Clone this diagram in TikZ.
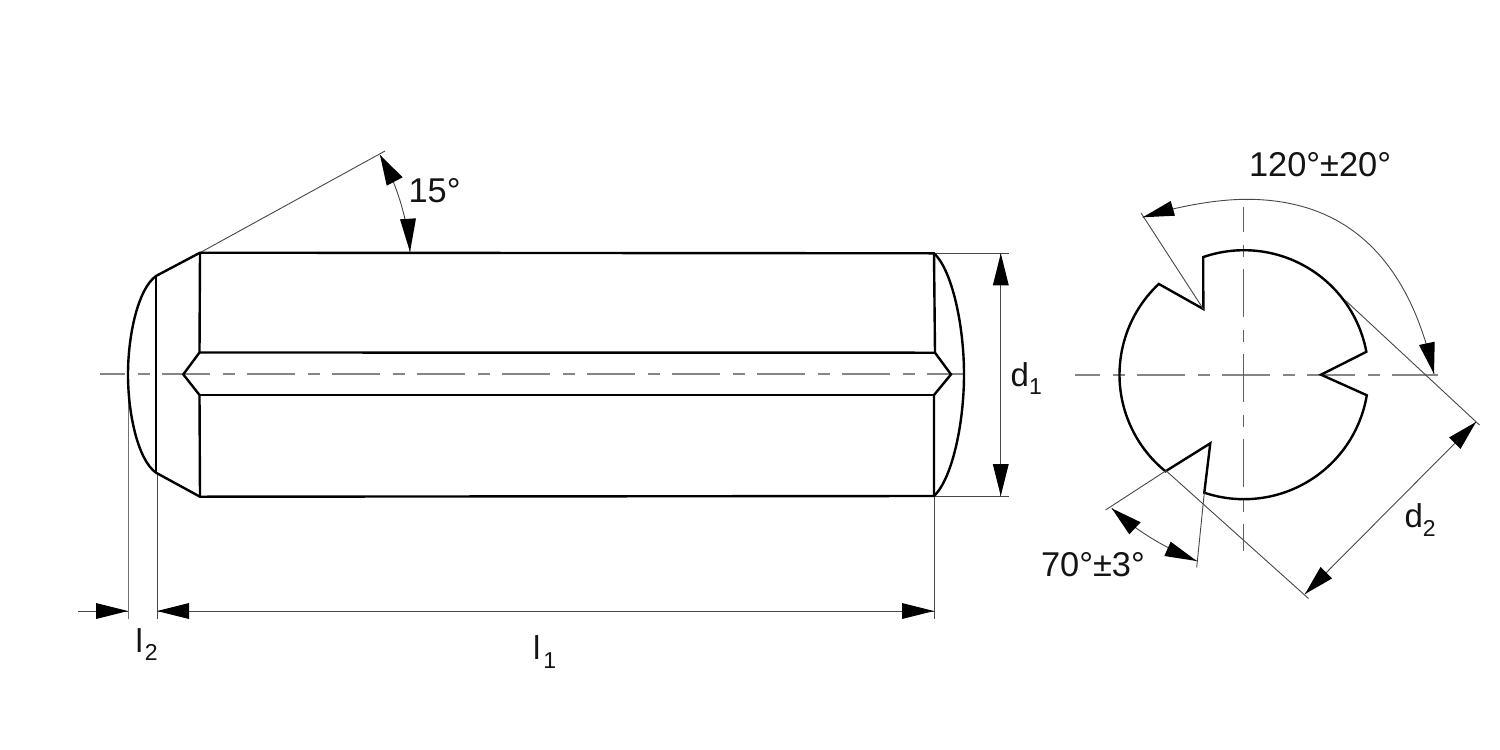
\documentclass[tikz,border=0pt]{standalone}
\usepackage{fontspec}
\setmainfont{Liberation Sans}
\newcommand{\subsc}[1]{\raisebox{-4.3pt}{\fontsize{11.5pt}{11.5pt}\selectfont #1}}
\tikzset{
  outl/.style={line width=1.2pt,black,line join=miter},
  thinl/.style={line width=0.45pt,black!72},
  extl/.style={line width=0.6pt,black!55},
  centl/.style={line width=0.95pt,black!48,dash pattern=on 24pt off 6.25pt on 6pt off 6.25pt,dash phase=11.5pt},
  centv/.style={line width=0.6pt,black!62,dash pattern=on 24pt off 6.25pt on 6pt off 6.25pt,dash phase=11.5pt},
  headf/.style={fill=black,draw=none},
  lab/.style={anchor=base west,inner sep=0pt,outer sep=0pt,font=\fontsize{16.5pt}{16.5pt}\selectfont,text=black!92},
  labw/.style={lab,font=\fontsize{17.2pt}{17.2pt}\selectfont}
}
\newcommand{\hd}[3]{\fill[headf] (#1) -- (#2) -- (#3) -- cycle;}
\begin{document}
\begin{tikzpicture}[x=0.5pt,y=-0.5pt]
\useasboundingbox (0,0) rectangle (1500,750);
\fill[white] (0,0) rectangle (1500,750);
% ---- side view coordinates
\coordinate (chTL) at (156,276);
\coordinate (chBL) at (156,472.7);
\coordinate (noseL) at (128,374.5);
\coordinate (TL) at (200,252.7);
\coordinate (BL) at (200,496.7);
\coordinate (TR) at (934,253.3);
\coordinate (BR) at (934,496);
\coordinate (noseR) at (964,374.5);
\coordinate (gTL) at (199.5,352.5);
\coordinate (gBL) at (199.5,395);
\coordinate (gTR) at (935,352.7);
\coordinate (gBR) at (934,395);
\coordinate (gL) at (183.3,374.4);
\coordinate (gR) at (951,374.4);
% centre line side view
\coordinate (cL1) at (100,374.4);
\coordinate (cL2) at (964,374.4);
\draw[centl] (cL1) -- (cL2);
% extension lines side view
\coordinate (e1) at (128.5,374.5);
\coordinate (e1b) at (128.5,619);
\coordinate (e2) at (157,472.7);
\coordinate (e2b) at (157,619);
\coordinate (e3b) at (934,619);
\coordinate (eA) at (385,151);
\coordinate (eT) at (1009,253.3);
\coordinate (eB) at (1009,496);
\draw[extl] (e1) -- (e1b);
\draw[thinl] (e2) -- (e2b);
\draw[thinl] (BR) -- (e3b);
\draw[thinl] (TL) -- (eA);
\draw[thinl] (TR) -- (eT);
\draw[thinl] (BR) -- (eB);
% outline side view
\draw[outl] (TL) -- (TR) .. controls (952,270) and (964,325) .. (noseR)
  .. controls (964,424) and (952,479) .. (BR) -- (BL) -- (chBL)
  .. controls (138,460) and (128,414) .. (noseL)
  .. controls (128,335) and (138,289) .. (chTL) -- cycle;
\draw[outl] (chTL) -- (chBL);
\draw[outl] (TL) -- (gTL) -- (gL) -- (gBL) -- (BL);
\draw[outl] (TR) -- (gTR) -- (gR) -- (gBR) -- (BR);
\draw[outl] (gTL) -- (gTR);
\draw[outl] (gBL) -- (gBR);
% dimensions side view
\coordinate (a15a) at (380,155);
\coordinate (a15b) at (410,252);
\draw[thinl] (a15a) .. controls (395,180) and (407,215) .. (a15b);
\hd{a15a}{386.7,185.7}{402.7,177.3}
\hd{a15b}{400,219.3}{416,218.3}
\coordinate (d1t) at (1000.8,253.3);
\coordinate (d1b) at (1000.8,496);
\draw[thinl] (d1t) -- (d1b);
\hd{d1t}{992.8,285.3}{1008.8,285.3}
\hd{d1b}{992.8,464}{1008.8,464}
\coordinate (l2s) at (78,611);
\coordinate (l2e) at (128,611);
\coordinate (l1s) at (157,611);
\coordinate (l1e) at (934,611);
\draw[thinl] (l2s) -- (l2e);
\draw[thinl] (l1s) -- (l1e);
\hd{l2e}{96,603}{96,619}
\hd{l1s}{189,603}{189,619}
\hd{l1e}{902,603}{902,619}
\node[labw] (t15) at (408.5,202.5) {15°};
\node[lab] (td1) at (1010.7,386) {d\subsc{1}};
\node[lab] (tl2) at (135.5,652) {l\kern1pt\subsc{2}};
\node[lab] (tl1) at (533,659.5) {l\kern1.5pt\subsc{1}};
% ---- end view
\coordinate (cH1) at (1075,374.7);
\coordinate (cH2) at (1438,374.7);
\coordinate (cV1) at (1243.7,207);
\coordinate (cV2) at (1243.7,551);
\draw[centl] (cH1) -- (cH2);
\draw[centv] (cV1) -- (cV2);
\coordinate (tipA) at (1321,374.7);
\coordinate (tipB) at (1203.3,309);
\coordinate (tipC) at (1210.3,443.3);
\draw[outl] plot[domain=-10.6:-109.1,samples=50] ({1244+124.5*cos(\x)},{374.7+124.5*sin(\x)})
  -- (tipB)
  -- plot[domain=-133.2:-230.9,samples=50] ({1244+124.5*cos(\x)},{374.7+124.5*sin(\x)})
  -- (tipC)
  -- plot[domain=108.6:9.5,samples=50] ({1244+124.5*cos(\x)},{374.7+124.5*sin(\x)})
  -- (tipA) -- cycle;
% extension lines end view
\coordinate (xB) at (1141,213);
\coordinate (xT1a) at (1345,300);
\coordinate (xT1b) at (1479.5,425);
\coordinate (xT2a) at (1166,470.7);
\coordinate (xT2b) at (1308.5,598.5);
\coordinate (x7a) at (1105.5,510);
\coordinate (x7b) at (1204.3,492.7);
\coordinate (x7c) at (1196.7,567.5);
\draw[thinl] (tipB) -- (xB);
\draw[thinl] (xT1a) -- (xT1b);
\draw[thinl] (xT2a) -- (xT2b);
\draw[thinl] (xT2a) -- (x7a);
\draw[thinl] (x7b) -- (x7c);
% dimensions end view
\coordinate (a12a) at (1142.7,217.3);
\coordinate (a12m) at (1246.7,199.3);
\coordinate (a12b) at (1434,374);
\draw[thinl] (a12a) .. controls (1175,207) and (1215,199.3) .. (a12m)
  .. controls (1356.7,199.3) and (1411.6,271.6) .. (a12b);
\hd{a12a}{1170.7,201}{1175,215.7}
\hd{a12b}{1419,345}{1434.7,341.7}
\coordinate (d2a) at (1476,422);
\coordinate (d2b) at (1305,594);
\draw[thinl] (d2a) -- (d2b);
\hd{d2a}{1449,437.5}{1460.5,449}
\hd{d2b}{1320.5,567}{1332,578.5}
\coordinate (a7a) at (1111.7,508.3);
\coordinate (a7b) at (1196.7,561);
\draw[thinl] (a7a) .. controls (1135,530) and (1165,548) .. (a7b);
\hd{a7a}{1140.7,522.3}{1129.3,534.3}
\hd{a7b}{1170.7,541.7}{1164.3,556}
\node[labw] (t120) at (1249,176) {120°±20°};
\node[lab] (td2) at (1404.5,527.7) {d\subsc{2}};
\node[labw] (t70) at (1041,576.5) {70°±3°};
\end{tikzpicture}
\end{document}
